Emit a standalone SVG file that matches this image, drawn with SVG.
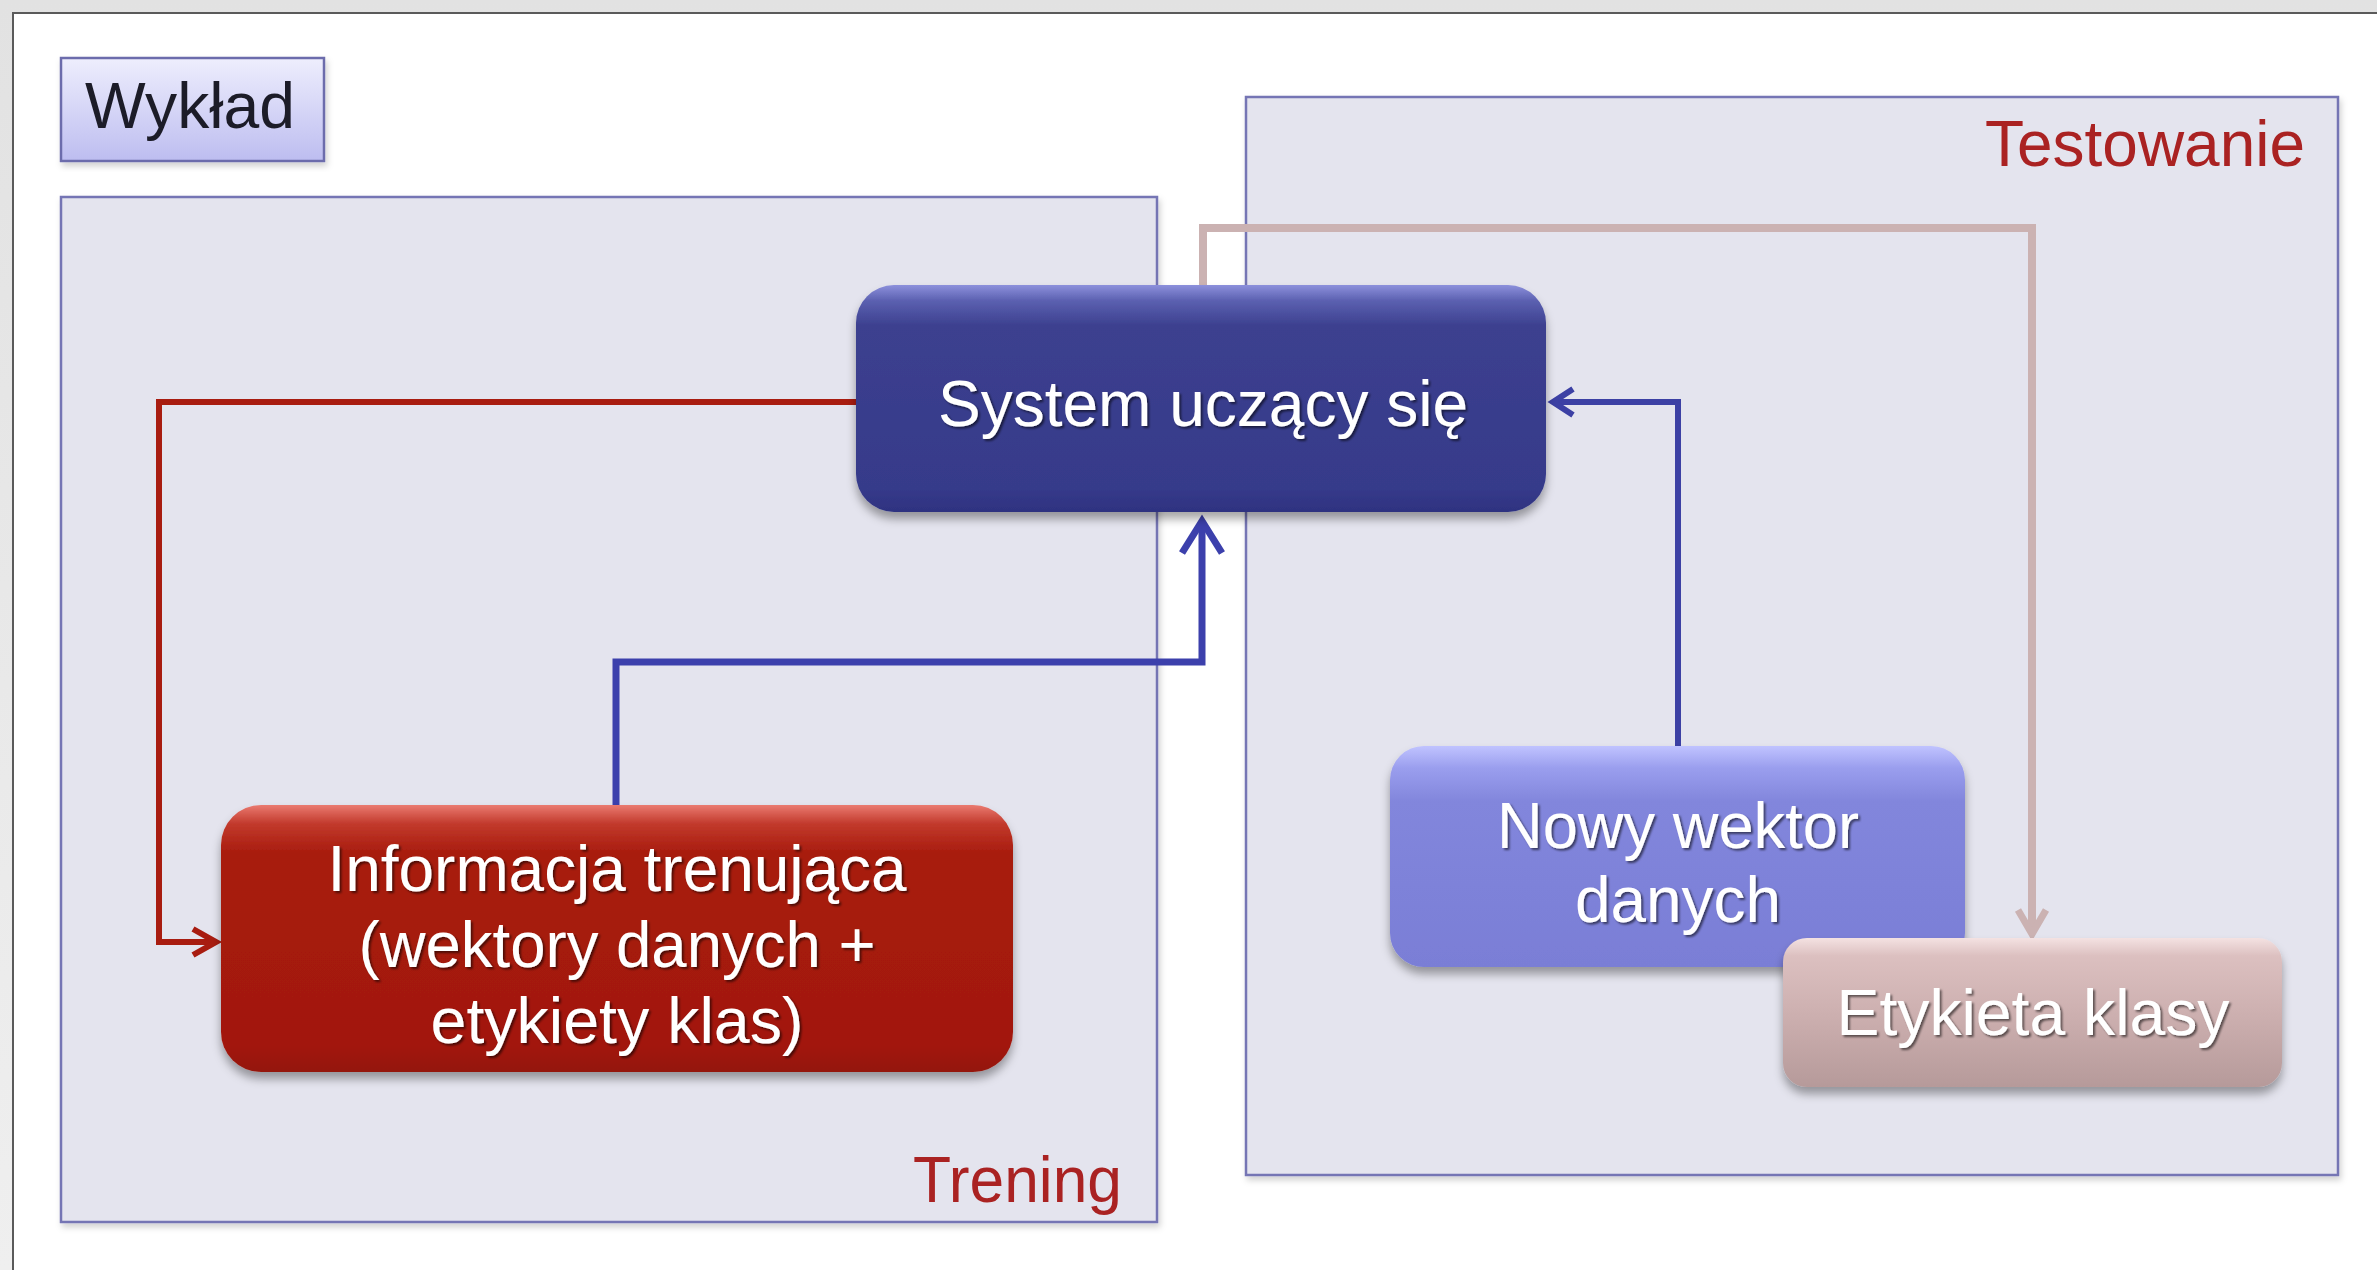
<svg xmlns="http://www.w3.org/2000/svg" width="2377" height="1270" viewBox="0 0 2377 1270">
  <style>
    .lbl { font-family: "Liberation Sans", Arial, sans-serif; }
    .node-text { font-family: "Liberation Sans", Arial, sans-serif; font-size: 64px; fill: #ffffff; text-anchor: middle; filter: url(#txtShadow); }
    .group-box { fill: #e4e4ee; stroke: #7474b4; stroke-width: 2.5; filter: url(#softShadow); }
    .group-title { font-family: "Liberation Sans", Arial, sans-serif; font-size: 64px; fill: #aa2222; text-anchor: end; }
    .conn { fill: none; stroke-linejoin: miter; stroke-linecap: butt; }
  </style>
  <defs>
    <linearGradient id="pageBg" x1="0" y1="0" x2="0" y2="1">
      <stop offset="0" stop-color="#e2e2e2"/>
      <stop offset="1" stop-color="#efefef"/>
    </linearGradient>
    <linearGradient id="gWyklad" x1="0" y1="0" x2="0" y2="1">
      <stop offset="0" stop-color="#eeeefd"/>
      <stop offset="1" stop-color="#bdbdf0"/>
    </linearGradient>
    <linearGradient id="gSystem" x1="0" y1="0" x2="0" y2="1">
      <stop offset="0" stop-color="#8c90dc"/>
      <stop offset="0.07" stop-color="#5b60b0"/>
      <stop offset="0.18" stop-color="#3c408f"/>
      <stop offset="0.9" stop-color="#363a8a"/>
      <stop offset="1" stop-color="#2e3280"/>
    </linearGradient>
    <linearGradient id="gInfo" x1="0" y1="0" x2="0" y2="1">
      <stop offset="0" stop-color="#ea7a70"/>
      <stop offset="0.07" stop-color="#c23a2c"/>
      <stop offset="0.18" stop-color="#a81c0e"/>
      <stop offset="0.9" stop-color="#a2180a"/>
      <stop offset="1" stop-color="#941408"/>
    </linearGradient>
    <linearGradient id="gNowy" x1="0" y1="0" x2="0" y2="1">
      <stop offset="0" stop-color="#c0c3ff"/>
      <stop offset="0.1" stop-color="#9a9eee"/>
      <stop offset="0.25" stop-color="#8286dc"/>
      <stop offset="1" stop-color="#7a7ed6"/>
    </linearGradient>
    <linearGradient id="gEtyk" x1="0" y1="0" x2="0" y2="1">
      <stop offset="0" stop-color="#f4e2e2"/>
      <stop offset="0.12" stop-color="#dcc0c0"/>
      <stop offset="0.5" stop-color="#cdb0b0"/>
      <stop offset="1" stop-color="#b69a9a"/>
    </linearGradient>
    <filter id="softShadow" x="-5%" y="-5%" width="110%" height="115%">
      <feDropShadow dx="2" dy="4" stdDeviation="3" flood-color="#000" flood-opacity="0.18"/>
    </filter>
    <filter id="nodeShadow" x="-10%" y="-10%" width="120%" height="130%">
      <feDropShadow dx="0" dy="7" stdDeviation="5" flood-color="#000" flood-opacity="0.35"/>
    </filter>
    <filter id="txtShadow" x="-5%" y="-20%" width="110%" height="140%">
      <feDropShadow dx="2" dy="2" stdDeviation="1.2" flood-color="#000" flood-opacity="0.55"/>
    </filter>
  </defs>

  <!-- page background and slide frame -->
  <rect x="0" y="0" width="2377" height="1270" fill="url(#pageBg)"/>
  <rect x="13" y="13" width="2400" height="1300" fill="#ffffff" stroke="#5a5a5a" stroke-width="2"/>

  <!-- title tag -->
  <g id="wyklad">
    <rect x="61" y="58" width="263" height="103" fill="url(#gWyklad)" stroke="#6c6cac" stroke-width="2.5" filter="url(#softShadow)"/>
    <text class="lbl" x="85" y="128" font-size="64" fill="#1c1c28" textLength="210" lengthAdjust="spacingAndGlyphs">Wykład</text>
  </g>

  <!-- training region -->
  <g id="trening">
    <rect class="group-box" x="61" y="197" width="1096" height="1025"/>
    <text class="group-title" x="1122" y="1202" textLength="209" lengthAdjust="spacingAndGlyphs">Trening</text>
  </g>

  <!-- testing region -->
  <g id="testowanie">
    <rect class="group-box" x="1246" y="97" width="1092" height="1078"/>
    <text class="group-title" x="2305" y="166" textLength="320" lengthAdjust="spacingAndGlyphs">Testowanie</text>
  </g>

  <!-- connectors -->
  <g id="connectors">
    <!-- system -> training info (red) -->
    <path class="conn" d="M856,402 H159 V942 H214" stroke="#a81c10" stroke-width="6"/>
    <path class="conn" d="M193,929 L216,942 L193,955" stroke="#a81c10" stroke-width="6"/>
    <!-- training info -> system (blue) -->
    <path class="conn" d="M616,805 V662 H1202 V522" stroke="#3c40ac" stroke-width="7"/>
    <path class="conn" d="M1182,553 L1202,521 L1222,553" stroke="#3c40ac" stroke-width="7"/>
    <!-- new vector -> system (blue) -->
    <path class="conn" d="M1678,746 V402 H1555" stroke="#3c40a4" stroke-width="6"/>
    <path class="conn" d="M1573,389 L1553,402 L1573,415" stroke="#3c40a4" stroke-width="6"/>
    <!-- system -> class label (pink) -->
    <path class="conn" d="M1203,285 V228 H2032 V932" stroke="#cbb2b2" stroke-width="8"/>
    <path class="conn" d="M2018,910 L2032,934 L2046,910" stroke="#cbb2b2" stroke-width="7"/>
  </g>

  <!-- learning system -->
  <g id="system">
    <rect x="856" y="285" width="690" height="227" rx="38" ry="38" fill="url(#gSystem)" filter="url(#nodeShadow)"/>
    <text class="node-text" x="1203" y="426" textLength="530" lengthAdjust="spacingAndGlyphs">System uczący się</text>
  </g>

  <!-- training information -->
  <g id="informacja">
    <rect x="221" y="805" width="792" height="267" rx="40" ry="40" fill="url(#gInfo)" filter="url(#nodeShadow)"/>
    <text class="node-text" x="617" y="891" textLength="579" lengthAdjust="spacingAndGlyphs">Informacja trenująca</text>
    <text class="node-text" x="617" y="967" textLength="517" lengthAdjust="spacingAndGlyphs">(wektory danych +</text>
    <text class="node-text" x="617" y="1043" textLength="373" lengthAdjust="spacingAndGlyphs">etykiety klas)</text>
  </g>

  <!-- new data vector -->
  <g id="nowy-wektor">
    <rect x="1390" y="746" width="575" height="221" rx="34" ry="34" fill="url(#gNowy)" filter="url(#nodeShadow)"/>
    <text class="node-text" x="1678" y="848" textLength="362" lengthAdjust="spacingAndGlyphs">Nowy wektor</text>
    <text class="node-text" x="1678" y="922" textLength="206" lengthAdjust="spacingAndGlyphs">danych</text>
  </g>

  <!-- class label -->
  <g id="etykieta">
    <rect x="1783" y="938" width="499" height="149" rx="24" ry="24" fill="url(#gEtyk)" filter="url(#nodeShadow)"/>
    <text class="node-text" x="2033" y="1035" textLength="393" lengthAdjust="spacingAndGlyphs">Etykieta klasy</text>
  </g>
</svg>
